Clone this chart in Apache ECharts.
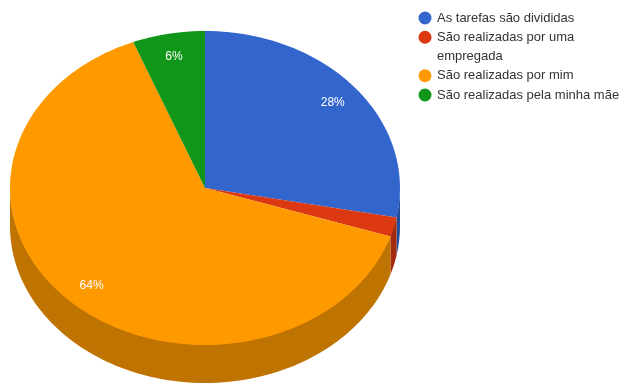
<!DOCTYPE html>
<html>
<head>
<meta charset="utf-8">
<style>html,body{margin:0;padding:0;background:#fff}#chart{width:622px;height:383px}</style>
<script src="https://cdn.jsdelivr.net/npm/echarts@6/dist/echarts.min.js"></script>
</head>
<body>
<div id="chart"></div>
<script>
// Answers and their shares, in percent, clockwise from twelve o'clock
const categories = ['As tarefas são divididas', 'São realizadas por uma\nempregada', 'São realizadas por mim', 'São realizadas pela minha mãe'];
const shares = [28, 2, 64, 6];
const percentLabels = ['28%', '', '64%', '6%'];
const topColors = ['#3366cc', '#dc3912', '#ff9900', '#109618'];
const wallColors = ['#264d99', '#a52b0e', '#bf7300', '#0c7012'];

const DEPTH = 38;
const LABEL_RADIUS = 0.85;
const TURN = 2 * Math.PI / 100;
const FONT_FAMILY = '"Liberation Sans", Arial, sans-serif';

// Unit-circle point for a cumulative percentage; the axes turn it into an ellipse
const unit = (pct, r) => [r * Math.sin(pct * TURN), r * Math.cos(pct * TURN)];

function arcPoints(from, to, api, dy) {
  const steps = Math.max(2, Math.ceil((to - from) * 2));
  const pts = [];
  for (let i = 0; i <= steps; i++) {
    const p = api.coord(unit(from + (to - from) * i / steps, 1));
    pts.push([p[0], p[1] + dy]);
  }
  return pts;
}

function renderSlice(index) {
  return function (params, api) {
    const start = api.value(0);
    const end = start + api.value(1);
    const children = [];

    // Side wall: only the part of the rim facing the viewer, 25%..75% of the turn
    const wallFrom = Math.max(start, 25);
    const wallTo = Math.min(end, 75);
    if (wallTo > wallFrom) {
      const upper = arcPoints(wallFrom, wallTo, api, -1);
      const lower = arcPoints(wallFrom, wallTo, api, DEPTH).reverse();
      children.push({
        type: 'polygon',
        z2: 0,
        shape: { points: upper.concat(lower) },
        style: { fill: wallColors[index] }
      });
    }

    // Top face
    const centre = api.coord([0, 0]);
    children.push({
      type: 'polygon',
      z2: 1,
      shape: { points: [centre].concat(arcPoints(start, end, api, 0)) },
      style: { fill: topColors[index] }
    });

    // Percentage text inside the slice
    if (percentLabels[index]) {
      const at = api.coord(unit((start + end) / 2, LABEL_RADIUS));
      children.push({
        type: 'text',
        z2: 2,
        x: at[0],
        y: at[1],
        style: {
          text: percentLabels[index],
          fill: '#ffffff',
          font: '12px ' + FONT_FAMILY,
          align: 'center',
          verticalAlign: 'middle'
        }
      });
    }
    return { type: 'group', children: children };
  };
}

let running = 0;
const series = categories.map((name, i) => {
  const item = [running, shares[i]];
  running += shares[i];
  return {
    type: 'custom',
    name: name,
    coordinateSystem: 'cartesian2d',
    silent: true,
    animation: false,
    itemStyle: { color: topColors[i] },
    renderItem: renderSlice(i),
    data: [item],
    encode: { x: -1, y: -1 }
  };
});

// Key on the right: the marker sits on the first line of a wrapped entry
const KEY_LINE = 19.25;
let keyY = 18;
const keyElements = [];
categories.forEach((name, i) => {
  keyElements.push({
    type: 'circle',
    silent: true,
    shape: { cx: 425, cy: keyY, r: 6.5 },
    style: { fill: topColors[i] }
  });
  keyElements.push({
    type: 'text',
    silent: true,
    x: 437,
    y: keyY - KEY_LINE / 2,
    style: {
      text: name,
      fill: '#333333',
      font: '13px ' + FONT_FAMILY,
      lineHeight: KEY_LINE,
      align: 'left',
      verticalAlign: 'top'
    }
  });
  keyY += KEY_LINE * name.split('\n').length;
});

const hiddenAxis = { type: 'value', min: -1, max: 1, show: false };
const chart = echarts.init(document.getElementById('chart'), null, { renderer: 'canvas' });
chart.setOption({
  animation: false,
  backgroundColor: '#ffffff',
  grid: { left: 10, top: 31, width: 390, height: 314 },
  xAxis: hiddenAxis,
  yAxis: hiddenAxis,
  graphic: { elements: keyElements },
  series: series
});
</script>
</body>
</html>
